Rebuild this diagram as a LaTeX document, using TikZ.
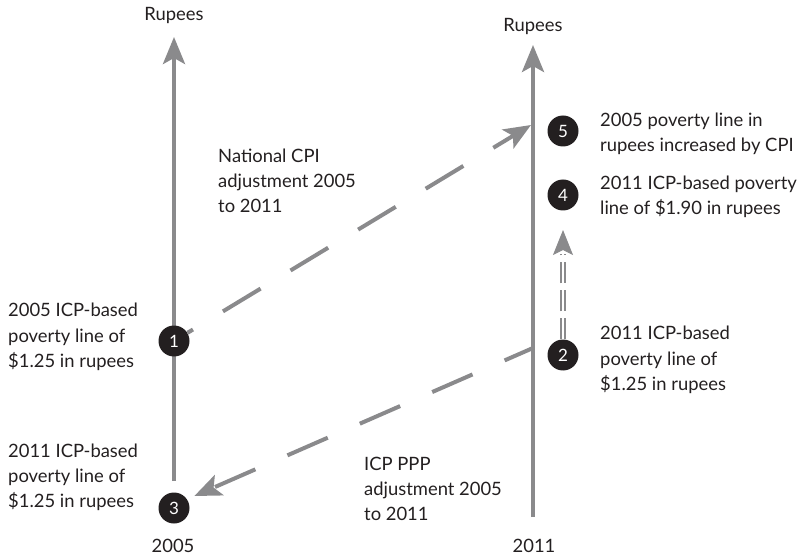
\documentclass[tikz,border=0pt]{standalone}
\usepackage{fontspec}
\setmainfont{Lato}
\usetikzlibrary{arrows.meta,positioning}
\definecolor{axis-gray}{HTML}{8A8A8C}
\definecolor{ink}{HTML}{231F20}
\tikzset{
    axis-line/.style = {draw=axis-gray, line width=4pt, -{Stealth[length=27pt, width=22pt, inset=6pt]}},
    num-dot/.style = {circle, fill=ink, text=white, minimum size=31pt, inner sep=0pt, font=\fontsize{17}{17}\selectfont},
    label-text/.style = {text=ink, align=left, inner sep=0pt, font=\fontsize{18.4}{25}\selectfont},
    dash-link/.style = {draw=axis-gray, line width=4pt, dash pattern=on 44pt off 35pt, -{Stealth[length=27pt, width=22pt, inset=6pt]}},
    double-link/.style = {draw=axis-gray, line width=1.4pt, double=white, double distance=2.4pt, dash pattern=on 21pt off 7pt},
}

\begin{document}
\begin{tikzpicture}[x=1pt, y=1pt]
\useasboundingbox (0,0) rectangle (806,555);

% the two axes
\coordinate (left-bottom) at (174,74);
\coordinate (left-top) at (174,518);
\coordinate (right-bottom) at (533,38);
\coordinate (right-top) at (533,510);
\draw[axis-line] (left-bottom) -- (left-top);
\draw[axis-line] (right-bottom) -- (right-top);
\node[label-text, anchor=base] (rupees-left) at (174,534) {Rupees};
\node[label-text, anchor=base] (rupees-right) at (533,523) {Rupees};
\node[label-text, anchor=base] (year-left) at (173,3) {2005};
\node[label-text, anchor=base] (year-right) at (534,3) {2011};

% numbered points
\node[num-dot] (c1) at (174,214) {1};
\node[num-dot] (c3) at (174,47) {3};
\node[num-dot] (c2) at (563,200) {2};
\node[num-dot] (c4) at (563,360) {4};
\node[num-dot] (c5) at (563,424) {5};

% adjustments
\coordinate (cpi-end) at (531,430);
\draw[dash-link, dash phase=37.5pt] (c1) -- (cpi-end);
\coordinate (ppp-start) at (533,207);
\draw[dash-link, dash phase=13pt, shorten >=8pt] (ppp-start) -- (c3.34);
\coordinate (dbl-tip) at (563,325);
\draw[double-link] (c2) -- ([yshift=-24pt]dbl-tip);
\draw[draw=axis-gray, line width=1pt, -{Stealth[length=25pt, width=20pt, inset=5pt]}] ([yshift=-2pt]dbl-tip) -- (dbl-tip);

% texts (base = last line)
\node[label-text, anchor=base west] (t1) at (8,188) {2005 ICP-based\\poverty line of\\\$1.25 in rupees};
\node[label-text, anchor=base west] (t3) at (8,48) {2011 ICP-based\\poverty line of\\\$1.25 in rupees};
\node[label-text, anchor=base west] (t-cpi) at (218,342) {National CPI\\adjustment 2005\\to 2011};
\node[label-text, anchor=base west] (t-ppp) at (364,35) {ICP PPP\\adjustment 2005\\to 2011};
\node[label-text, anchor=base west] (t5) at (600,403) {2005 poverty line in\\rupees increased by CPI};
\node[label-text, anchor=base west] (t4) at (600,340) {2011 ICP-based poverty\\line of \$1.90 in rupees};
\node[label-text, anchor=base west] (t2) at (600,165) {2011 ICP-based\\poverty line of\\\$1.25 in rupees};
\end{tikzpicture}
\end{document}
